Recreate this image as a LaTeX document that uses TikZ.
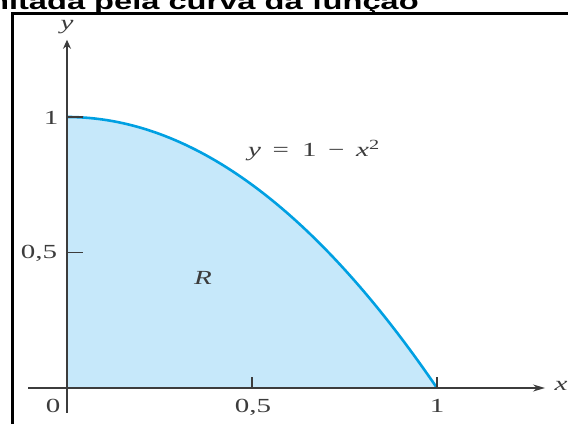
\documentclass[tikz,border=0pt]{standalone}
\usepackage{fontspec}
\setmainfont{Liberation Serif}
\newfontfamily\titlefont{Liberation Sans}
\usetikzlibrary{arrows.meta}

\definecolor{regfill}{RGB}{198,232,250}
\definecolor{curveblue}{RGB}{0,160,226}
\definecolor{axgray}{RGB}{60,60,60}

% растяжение текста по горизонтали, как на снимке
\newcommand{\stretchx}[1]{\scalebox{1.45}[1]{#1}}

\tikzset{
	lbl/.style={inner sep=0pt, text=axgray, font=\fontsize{20}{24}\selectfont},
	axline/.style={line width=1.6pt, draw=axgray},
}

\begin{document}
\begin{tikzpicture}[x=1pt, y=1pt]
	% параметры
	\def\UX{370pt} % единица по оси x
	\def\UY{271pt} % единица по оси y
	\def\OX{67}    % начало координат
	\def\OY{36}

	\useasboundingbox (0,0) rectangle (568,424);

	% заголовок, обрезанный сверху
	\node[anchor=base east, inner sep=0pt, font=\titlefont\bfseries\fontsize{22.5}{26}\selectfont]
		(title) at (419,414.5) {\stretchx{limitada pela curva da função}};

	% рамка
	\draw[line width=3pt] (12.5,0) -- (12.5,410.5) -- (568,410.5);

	\begin{scope}[shift={(\OX,\OY)}, x=\UX, y=\UY]
		% область R
		\fill[regfill] (0,0) -- plot[domain=0:1, samples=80] (\x,{1-\x*\x}) -- cycle;

		% кривая
		\draw[curveblue, line width=2.6pt] plot[domain=0:1, samples=80] (\x,{1-\x*\x});

		% оси
		\coordinate (xs) at (-0.105,0);
		\coordinate (xe) at (1.292,0);
		\coordinate (ys) at (0,-0.092);
		\coordinate (ye) at (0,1.285);
		\draw[axline, -{Stealth[length=12pt, width=7pt]}] (xs) -- (xe);
		\draw[axline, -{Stealth[length=9pt, width=8pt]}] (ys) -- (ye);

		% засечки
		\foreach \t in {0.5,1} {
			\draw[axline] (\t,0) -- ++(0,11pt);
			\draw[axline] (0,\t) -- ++(16pt,0);
		}
	\end{scope}

	% подписи
	\node[lbl] (ylab) at (67,397) {\stretchx{\textit{y}}};
	\node[lbl] (xlab) at (561,38) {\stretchx{\textit{x}}};
	\node[lbl, anchor=base] (ly1) at (51,299) {\stretchx{1}};
	\node[lbl, anchor=base] (ly05) at (39,166) {\stretchx{0,5}};
	\node[lbl, anchor=base] (l0) at (53,12) {\stretchx{0}};
	\node[lbl, anchor=base] (lx05) at (253,12) {\stretchx{0,5}};
	\node[lbl, anchor=base] (lx1) at (437,12) {\stretchx{1}};
	\node[lbl] (lR) at (203,146) {\stretchx{\textit{R}}};
	\node[lbl, anchor=base west] (eq) at (248,267)
		{\stretchx{\textit{y}\hspace{8pt}=\hspace{9pt}1\hspace{8pt}−\hspace{8pt}\textit{x}\textsuperscript{2}}};
\end{tikzpicture}
\end{document}
